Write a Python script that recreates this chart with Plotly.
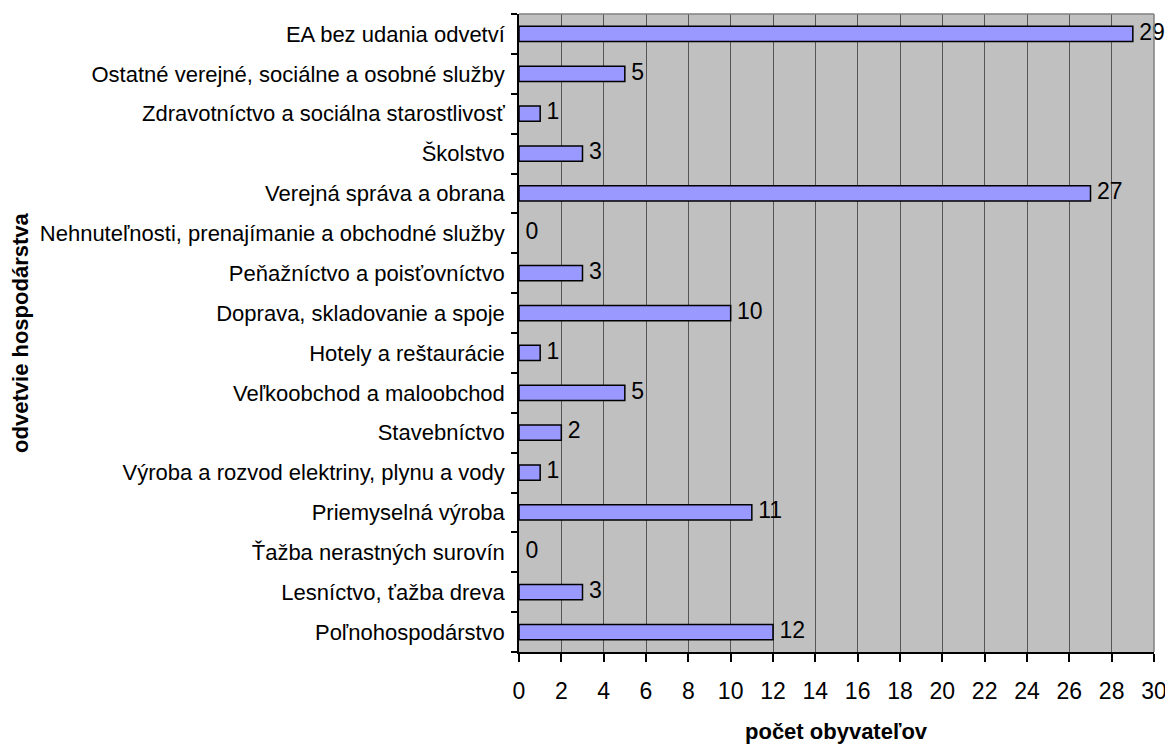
import plotly.graph_objects as go

categories = [
    "Poľnohospodárstvo",
    "Lesníctvo, ťažba dreva",
    "Ťažba nerastných surovín",
    "Priemyselná výroba",
    "Výroba a rozvod elektriny, plynu a vody",
    "Stavebníctvo",
    "Veľkoobchod a maloobchod",
    "Hotely a reštaurácie",
    "Doprava, skladovanie a spoje",
    "Peňažníctvo a poisťovníctvo",
    "Nehnuteľnosti, prenajímanie a obchodné služby",
    "Verejná správa a obrana",
    "Školstvo",
    "Zdravotníctvo a sociálna starostlivosť",
    "Ostatné verejné, sociálne a osobné služby",
    "EA bez udania odvetví",
]
values = [12, 3, 0, 11, 1, 2, 5, 1, 10, 3, 0, 27, 3, 1, 5, 29]
x_ticks = list(range(0, 31, 2))

font_family = "Liberation Sans, Arial, sans-serif"

fig = go.Figure()
fig.add_trace(go.Bar(
    y=categories, x=values, orientation="h",
    marker=dict(color="#9999FF",
                line=dict(color="black", width=[1.5 if v > 0 else 0 for v in values])),
    width=0.38, showlegend=False, hoverinfo="x+y",
))
fig.add_trace(go.Scatter(
    y=categories, x=values, mode="text",
    text=[" " + str(v) for v in values], textposition="middle right",
    textfont=dict(size=23, color="black", family=font_family),
    showlegend=False, hoverinfo="skip", cliponaxis=False,
))

# page has an 8px body margin, so the figure is sized to fill the rest of the window
fig.update_layout(
    width=1165, height=736,
    margin=dict(l=511, r=15, t=6, b=92),
    paper_bgcolor="white", plot_bgcolor="#C0C0C0",
    font=dict(family=font_family, color="black"),
    xaxis=dict(
        range=[0, 30], tickvals=x_ticks, ticktext=[str(t) for t in x_ticks],
        showgrid=True, gridcolor="#555555", gridwidth=1.2,
        showline=True, linecolor="black", linewidth=1.5,
        ticks="outside", ticklen=8, tickcolor="black", tickwidth=1.5,
        tickfont=dict(size=23), zeroline=False, ticklabelstandoff=10,
    ),
    yaxis=dict(
        type="category", categoryorder="array", categoryarray=categories,
        range=[-0.5, len(categories) - 0.5],
        showgrid=False, showline=True, linecolor="black", linewidth=1.5,
        ticks="outside", ticklen=6, tickcolor="black", tickwidth=1.5,
        tickson="boundaries", tickfont=dict(size=22), zeroline=False,
        ticklabelstandoff=8,
    ),
    shapes=[
        dict(type="line", xref="x domain", yref="y domain", x0=0, x1=1, y0=1, y1=1,
             line=dict(color="#808080", width=1.5)),
        dict(type="line", xref="x domain", yref="y domain", x0=1, x1=1, y0=0, y1=1,
             line=dict(color="#808080", width=1.5)),
    ],
    annotations=[
        dict(text="<b>počet obyvateľov</b>", xref="paper", yref="paper",
             x=0.5, y=-0.125, xanchor="center", yanchor="middle",
             showarrow=False, font=dict(size=22)),
        dict(text="<b>odvetvie hospodárstva</b>", xref="paper", yref="paper",
             x=-0.786, y=0.5, xanchor="center", yanchor="middle", textangle=-90,
             showarrow=False, font=dict(size=22)),
    ],
)

fig.write_html("out.html")
